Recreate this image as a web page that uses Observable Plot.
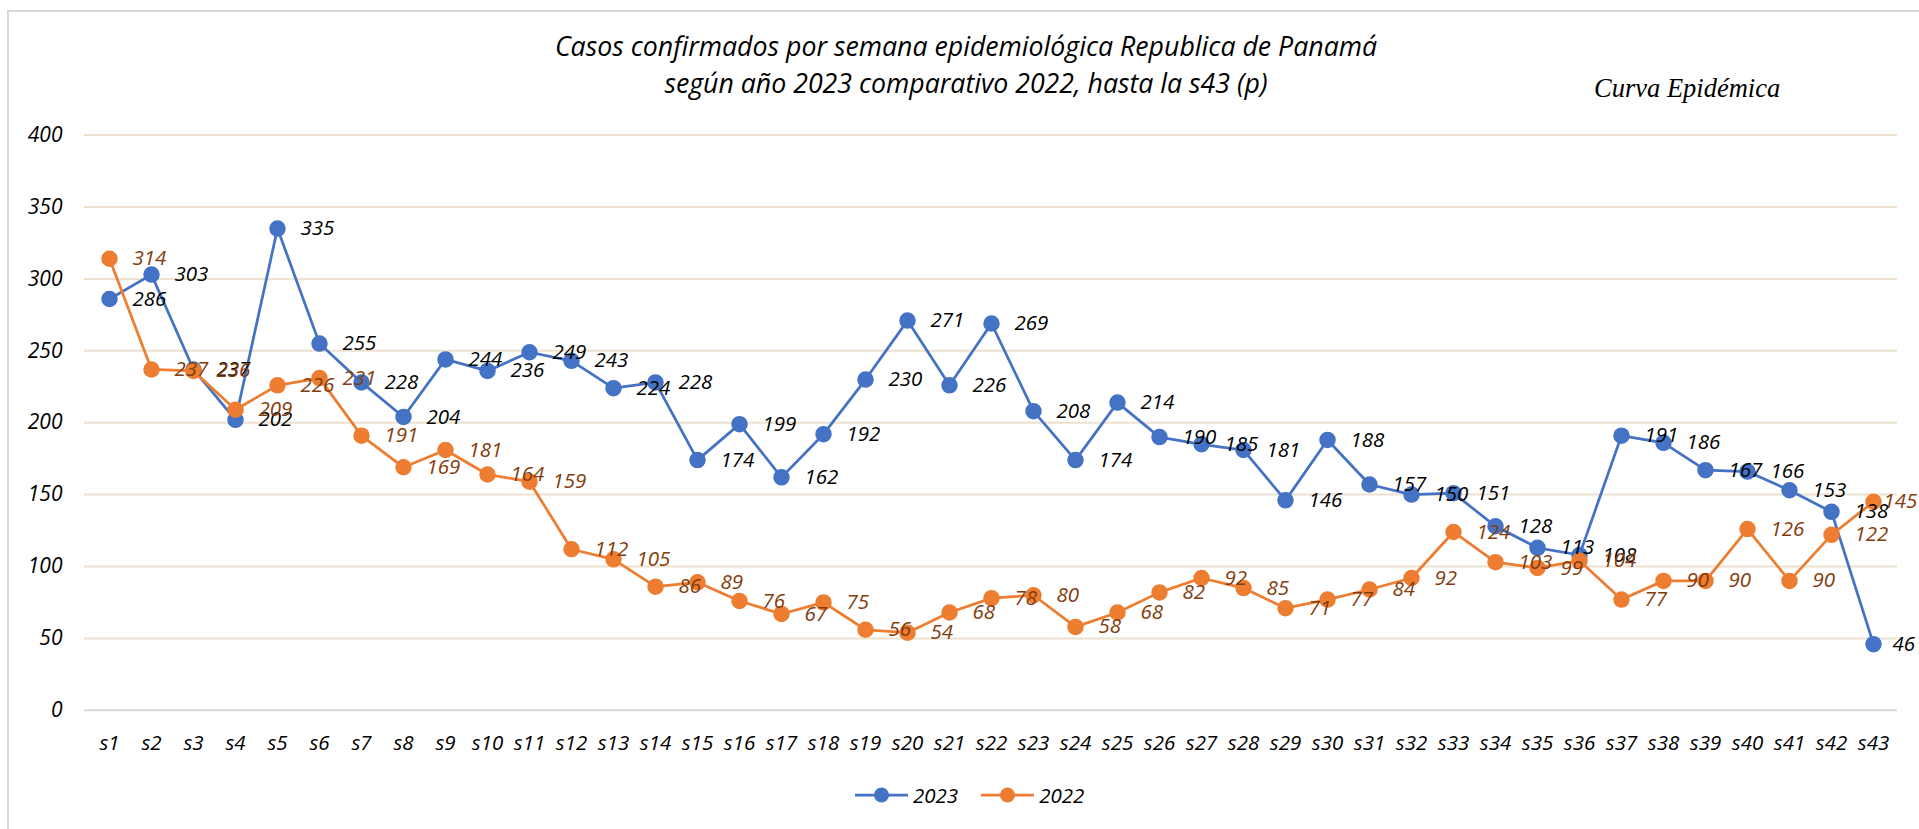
<!DOCTYPE html>
<html>
<head>
<meta charset="utf-8">
<script src="https://cdn.jsdelivr.net/npm/d3@7"></script>
<script src="https://cdn.jsdelivr.net/npm/@observablehq/plot@0.6"></script>
<style>
  html, body { margin: 0; padding: 0; background: #fff; }
  #wrap { position: relative; width: 1919px; height: 829px; overflow: hidden; background: #fff; }
  #frame { position: absolute; left: 7px; top: 10px; width: 1930px; height: 840px; border: 2px solid #d9d9d9; box-sizing: border-box; }
  #chart { position: absolute; left: 0; top: 0; }
  #title { position: absolute; left: 0; width: 1932px; top: 27px; text-align: center; font-family: 'Open Sans', sans-serif; font-style: italic; font-size: 26.7px; line-height: 37px; color: #000; }
  #curva { position: absolute; left: 1594px; top: 75px; font-family: 'Liberation Serif', serif; font-style: italic; font-size: 26.5px; line-height: 1; color: #000; white-space: nowrap; }
  #legend { position: absolute; left: 855px; top: 781px; height: 28px; display: flex; align-items: center; font-family: 'Open Sans', sans-serif; font-style: italic; font-size: 20.5px; color: #000; }
  #legend .item { display: flex; align-items: center; }
  #legend .item span { margin-left: 5px; }
</style>
</head>
<body>
<div id="wrap">
  <div id="frame"></div>
  <div id="chart"></div>
  <div id="title">Casos confirmados por semana epidemiológica Republica de Panamá<br>según año 2023 comparativo 2022, hasta la s43 (p)</div>
  <div id="curva">Curva Epidémica</div>
  <div id="legend"></div>
</div>
<script>
const weeks = ["s1","s2","s3","s4","s5","s6","s7","s8","s9","s10","s11","s12","s13","s14","s15","s16","s17","s18","s19","s20","s21","s22","s23","s24","s25","s26","s27","s28","s29","s30","s31","s32","s33","s34","s35","s36","s37","s38","s39","s40","s41","s42","s43"];
const cases2023 = [286,303,237,202,335,255,228,204,244,236,249,243,224,228,174,199,162,192,230,271,226,269,208,174,214,190,185,181,146,188,157,150,151,128,113,108,191,186,167,166,153,138,46];
const cases2022 = [314,237,236,209,226,231,191,169,181,164,159,112,105,86,89,76,67,75,56,54,68,78,80,58,68,82,92,85,71,77,84,92,124,103,99,104,77,90,90,126,90,122,145];
const yTicks = [0,50,100,150,200,250,300,350,400];
const seriesNames = ["2023","2022"];
const seriesColors = ["#4472c4","#ed7d31"];
const labelColors = ["#000000","#843c0c"];

const d23 = weeks.map((w, i) => ({week: w, value: cases2023[i]}));
const d22 = weeks.map((w, i) => ({week: w, value: cases2022[i]}));
const lastWeek = weeks[weeks.length - 1];

const chart = Plot.plot({
  width: 1919,
  height: 829,
  marginLeft: 84,
  marginRight: 22,
  marginTop: 134.6,
  marginBottom: 119.2,
  x: {type: "point", domain: weeks, padding: 0.5},
  y: {domain: [0, 400]},
  style: {fontFamily: "'Open Sans', sans-serif", fontStyle: "italic", fontSize: "20.5px", color: "#000", background: "transparent"},
  marks: [
    Plot.ruleY(yTicks.filter(d => d > 0), {stroke: "#ece2cf", strokeWidth: 2}),
    Plot.ruleY([0], {stroke: "#d9d9d9", strokeWidth: 2}),
    Plot.axisY(yTicks, {tickSize: 0, tickPadding: 22, fontSize: 21, label: null}),
    Plot.axisX({tickSize: 0, tickPadding: 25, fontSize: 20.5, label: null}),
    Plot.line(d23, {x: "week", y: "value", stroke: seriesColors[0], strokeWidth: 2.75}),
    Plot.dot(d23, {x: "week", y: "value", r: 7.5, fill: seriesColors[0], stroke: seriesColors[0]}),
    Plot.line(d22, {x: "week", y: "value", stroke: seriesColors[1], strokeWidth: 2.75}),
    Plot.dot(d22, {x: "week", y: "value", r: 7.5, fill: seriesColors[1], stroke: seriesColors[1]}),
    Plot.text(d23.filter(d => d.week !== lastWeek), {x: "week", y: "value", text: d => String(d.value), dx: 23, textAnchor: "start", lineAnchor: "middle", fill: labelColors[0], fontSize: 20.5}),
    Plot.text(d22.filter(d => d.week !== lastWeek), {x: "week", y: "value", text: d => String(d.value), dx: 23, textAnchor: "start", lineAnchor: "middle", fill: labelColors[1], fontSize: 20.5}),
    Plot.text(d23.filter(d => d.week === lastWeek), {x: "week", y: "value", text: d => String(d.value), dx: 19, textAnchor: "start", lineAnchor: "middle", fill: labelColors[0], fontSize: 20.5}),
    Plot.text(d22.filter(d => d.week === lastWeek), {x: "week", y: "value", text: d => String(d.value), dx: 10, textAnchor: "start", lineAnchor: "middle", fill: labelColors[1], fontSize: 20.5})
  ]
});
document.getElementById("chart").appendChild(chart);

const legend = document.getElementById("legend");
seriesNames.forEach((name, i) => {
  const item = document.createElement("div");
  item.className = "item";
  if (i > 0) item.style.marginLeft = "23px";
  const ns = "http://www.w3.org/2000/svg";
  const svg = document.createElementNS(ns, "svg");
  svg.setAttribute("width", "53");
  svg.setAttribute("height", "16");
  const ln = document.createElementNS(ns, "line");
  ln.setAttribute("x1", "0"); ln.setAttribute("x2", "53");
  ln.setAttribute("y1", "8"); ln.setAttribute("y2", "8");
  ln.setAttribute("stroke", seriesColors[i]); ln.setAttribute("stroke-width", "2.75");
  const c = document.createElementNS(ns, "circle");
  c.setAttribute("cx", "26.5"); c.setAttribute("cy", "8"); c.setAttribute("r", "7.5");
  c.setAttribute("fill", seriesColors[i]);
  svg.appendChild(ln); svg.appendChild(c);
  const sp = document.createElement("span");
  sp.textContent = name;
  item.appendChild(svg); item.appendChild(sp);
  legend.appendChild(item);
});
</script>
</body>
</html>
